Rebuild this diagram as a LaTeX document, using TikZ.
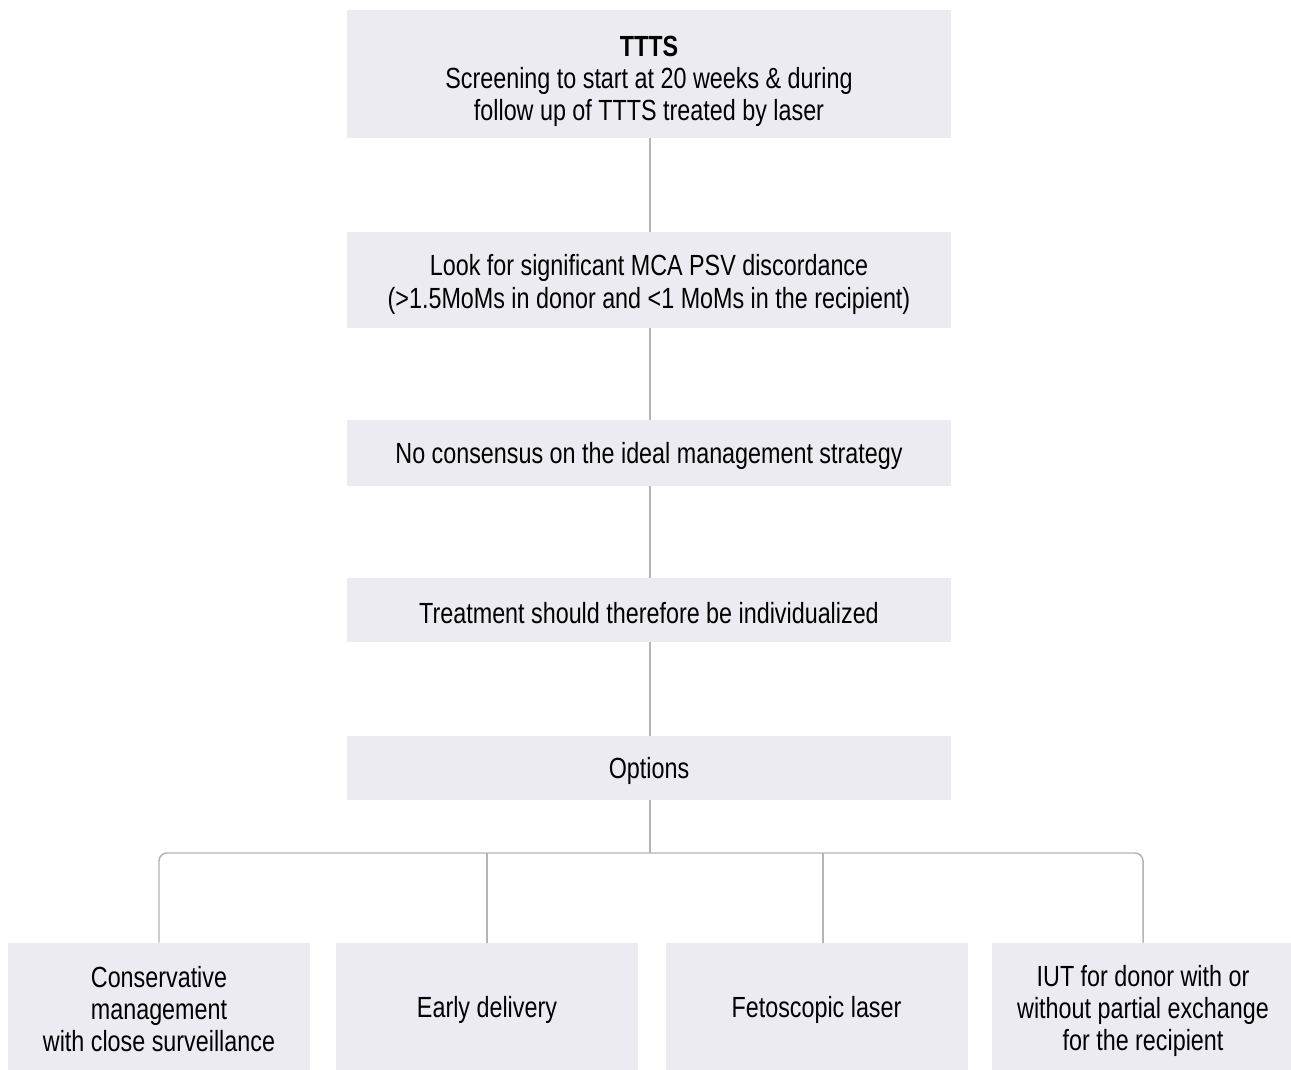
\documentclass[tikz,border=0pt]{standalone}
\usepackage{fontspec}
\setmainfont[FakeStretch=0.8]{Liberation Sans}
\usepackage{tikz}
\usetikzlibrary{positioning}
\definecolor{boxfill}{RGB}{236,235,241}
\definecolor{linkgray}{RGB}{180,180,180}
\newcommand{\lift}[1]{\rule{0pt}{#1}}

\begin{document}
\begin{tikzpicture}[
x=0.02cm, y=-0.02cm,
MyBox/.style={fill=boxfill,draw=none,inner sep=0pt,align=center,
  font=\fontsize{16.6pt}{18.4pt}\selectfont},
OneLine/.style={execute at begin node={\lift{15.5pt}}},
MainBox/.style={MyBox,minimum width=604*0.02cm},
OptBox/.style={MyBox,minimum width=302*0.02cm,minimum height=127*0.02cm},
Links/.style={draw=linkgray,line width=0.85pt}
]
\useasboundingbox (0,0) rectangle (1291,1070);

% main column
\node[MainBox,minimum height=128*0.02cm] (ttts) at (649,74)
  {\lift{20pt}\textbf{TTTS}\\Screening to start at 20 weeks \& during\\follow up of TTTS treated by laser};
\node[MainBox,minimum height=96*0.02cm] (mca) at (649,280)
  {\lift{17pt}Look for significant MCA PSV discordance\\(>1.5MoMs in donor and <1 MoMs in the recipient)};
\node[MainBox,OneLine,minimum height=66*0.02cm] (consensus) at (649,453)
  {No consensus on the ideal management strategy};
\node[MainBox,OneLine,minimum height=64*0.02cm] (individual) at (649,610)
  {Treatment should therefore be individualized};
\node[MainBox,OneLine,minimum height=64*0.02cm] (options) at (649,768)
  {Options};

% the four options
\node[OptBox] (conserv) at (159,1006.5)
  {\lift{15pt}Conservative\\management\\with close surveillance};
\node[OptBox,OneLine] (early) at (487,1006.5) {Early delivery};
\node[OptBox,OneLine] (laser) at (816.5,1006.5) {Fetoscopic laser};
\node[OptBox] (iut) at (1143,1006.5)
  {\lift{17pt}IUT for donor with or\\without partial exchange\\for the recipient};

\coordinate (split) at (650,853);

\draw[Links] ([xshift=0.02cm]ttts.south) -- ([xshift=0.02cm]mca.north);
\draw[Links] ([xshift=0.02cm]mca.south) -- ([xshift=0.02cm]consensus.north);
\draw[Links] ([xshift=0.02cm]consensus.south) -- ([xshift=0.02cm]individual.north);
\draw[Links] ([xshift=0.02cm]individual.south) -- ([xshift=0.02cm]options.north);
\draw[Links] ([xshift=0.02cm]options.south) -- (split);

\draw[Links,rounded corners=0.16cm] (conserv.north) |- (split) -| (iut.north);
\draw[Links] (early.north) -- (early.north |- split);
\draw[Links] ([xshift=0.13cm]laser.north) -- ([xshift=0.13cm]laser.north |- split);

\end{tikzpicture}
\end{document}
